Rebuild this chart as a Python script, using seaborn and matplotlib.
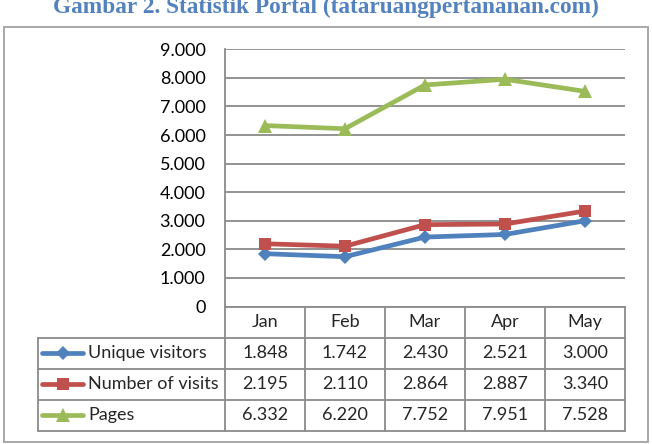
import matplotlib
matplotlib.use("Agg")
import matplotlib.pyplot as plt
import seaborn as sns
import pandas as pd
import numpy as np
from matplotlib.patches import Rectangle
from matplotlib.lines import Line2D

months = ["Jan", "Feb", "Mar", "Apr", "May"]
series_names = ["Unique visitors", "Number of visits", "Pages"]
unique_visitors = [1848, 1742, 2430, 2521, 3000]
number_of_visits = [2195, 2110, 2864, 2887, 3340]
pages = [6332, 6220, 7752, 7951, 7528]
y_ticks = [0, 1000, 2000, 3000, 4000, 5000, 6000, 7000, 8000, 9000]
title = "Gambar 2. Statistik Portal (tataruangpertananan.com)"

colors = ["#4F81BD", "#C0504D", "#9BBB59"]
markers = ["D", "s", "^"]
msizes = [7, 8.5, 9.5]

sns.set_theme(style="white")
plt.rcParams["font.family"] = ["Lato", "DejaVu Sans"]

W, H = 652, 444
fig = plt.figure(figsize=(W / 100, H / 100), dpi=100)

def fx(x):
    return x / W

def fy(y):
    return 1 - y / H

def fmt(v):
    return f"{v:,}".replace(",", ".")

# outer chart border
fig.patches.append(Rectangle((fx(3.5), fy(441.5)), fx(647.5) - fx(3.5), fy(27) - fy(441.5),
                             transform=fig.transFigure, fill=False, edgecolor="#A8A8A8", lw=1.4))

# title (partly clipped at top as in reference)
fig.text(0.5, fy(13.5), title, ha="center", va="baseline", fontsize=16.8, fontweight="bold",
         color="#5382BE", family=["Liberation Serif", "DejaVu Serif"])

# main plot
x0, x1, ytop, ybot = 225, 625, 49.3, 306.5
ax = fig.add_axes([fx(x0), fy(ybot), fx(x1) - fx(x0), fy(ytop) - fy(ybot)])

df = pd.DataFrame({
    "month": months * 3,
    "idx": list(range(len(months))) * 3,
    "value": unique_visitors + number_of_visits + pages,
    "series": [s for s in series_names for _ in months],
})

for i, name in enumerate(series_names):
    sub = df[df["series"] == name]
    sns.lineplot(data=sub, x="idx", y="value", ax=ax, color=colors[i], lw=3.4,
                 marker=markers[i], markersize=msizes[i], markeredgewidth=0, legend=False)

ax.set_xlim(-0.5, len(months) - 0.5)
ax.set_ylim(0, 9000)
ax.set_yticks(y_ticks)
ax.set_yticklabels([fmt(t) for t in y_ticks], fontsize=13, color="black")
ax.tick_params(axis="y", length=0, pad=14)
ax.set_xticks([])
ax.set_xlabel("")
ax.set_ylabel("")
ax.grid(axis="y", color="#8A8A8A", lw=1.3)
ax.set_axisbelow(True)
for s in ["top", "right", "bottom"]:
    ax.spines[s].set_visible(False)
ax.spines["left"].set_color("#8A8A8A")
ax.spines["left"].set_linewidth(1.3)

# data table below the plot
tleft, tbot = 37.7, 431
tab = fig.add_axes([fx(tleft), fy(tbot), fx(x1) - fx(tleft), fy(ybot) - fy(tbot)])
unit = (x1 - x0) / len(months)
xl = -0.5 - (x0 - tleft) / unit
tab.set_xlim(xl, len(months) - 0.5)
tab.set_ylim(4, 0)
tab.axis("off")
lc = "#8A8A8A"
lwt = 1.3
n = len(months)
# horizontal lines
tab.plot([-0.5, n - 0.5], [0, 0], color=lc, lw=lwt, clip_on=False)
for r in [1, 2, 3, 4]:
    tab.plot([xl, n - 0.5], [r, r], color=lc, lw=lwt, clip_on=False)
# vertical lines
for c in range(n + 1):
    tab.plot([c - 0.5, c - 0.5], [0, 4], color=lc, lw=lwt, clip_on=False)
tab.plot([xl, xl], [1, 4], color=lc, lw=lwt, clip_on=False)

for j, m in enumerate(months):
    tab.text(j, 0.5, m, ha="center", va="center", fontsize=13)
all_series = [unique_visitors, number_of_visits, pages]
for i, (name, vals) in enumerate(zip(series_names, all_series)):
    r = i + 1.5
    lx0 = xl + 4.3 / unit
    lx1 = xl + 45.5 / unit
    tab.add_line(Line2D([lx0, lx1], [r, r], color=colors[i], lw=3.4, clip_on=False))
    tab.plot([(lx0 + lx1) / 2], [r], marker=markers[i], color=colors[i], markersize=msizes[i],
             markeredgewidth=0, clip_on=False)
    tab.text(xl + 50.5 / unit, r, name, ha="left", va="center", fontsize=13)
    for j, v in enumerate(vals):
        tab.text(j, r, fmt(v), ha="center", va="center", fontsize=13)

fig.savefig("out.png", dpi=100)
